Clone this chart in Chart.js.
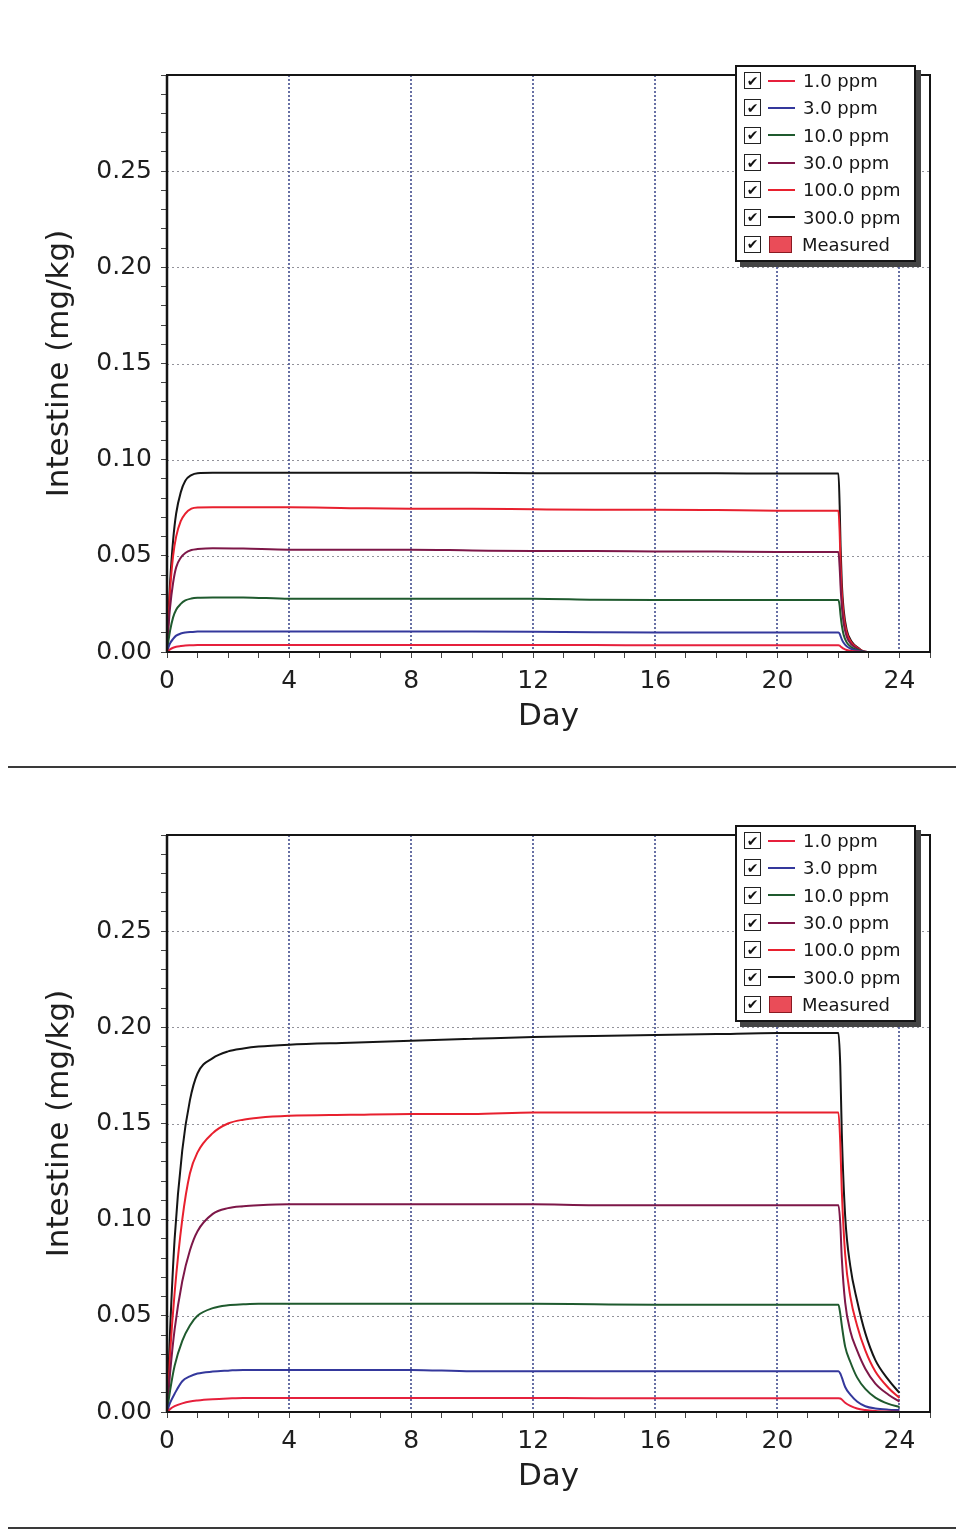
<!DOCTYPE html>
<html><head><meta charset="utf-8">
<script src="https://cdn.jsdelivr.net/npm/chart.js@4.4.1/dist/chart.umd.min.js"></script>
<style>
html,body{margin:0;padding:0;background:#fff;}
body{width:956px;height:1532px;position:relative;overflow:hidden;font-family:"DejaVu Sans",Verdana,sans-serif;}
.block{position:absolute;left:0;width:956px;height:760px;}
.block canvas{position:absolute;left:0;top:0;}
.sep{position:absolute;left:8px;width:948px;height:2px;background:#3a3a3a;}
.legend{position:absolute;left:735px;top:65px;width:177px;border:2px solid #151515;background:#fff;box-shadow:5px 5px 0 #444;padding:0 0 2px 0;}
.row{height:27.3px;display:flex;align-items:center;font-size:18px;color:#161616;white-space:nowrap;}
.cb{width:15px;height:15px;border:1.6px solid #222;margin-left:7px;display:flex;align-items:center;justify-content:center;font-size:14px;line-height:1;color:#111;}
.ln{width:27px;height:2px;margin-left:7px;}
.sw{width:21px;height:15px;margin-left:8px;background:#ea4c58;border:1px solid #8a1a22;}
.tx{margin-left:8px;}
.sw + .tx{margin-left:10px;}
</style>
</head><body>
<div class="block" id="b1"><canvas id="c1" width="956" height="760"></canvas></div>
<div class="block" id="b2" style="top:760px"><canvas id="c2" width="956" height="760"></canvas></div>
<div class="sep" style="top:766px"></div>
<div class="sep" style="top:1527px"></div>
<script>
// ---- data ----
const seriesLabels = ["1.0 ppm", "3.0 ppm", "10.0 ppm", "30.0 ppm", "100.0 ppm", "300.0 ppm"];
const seriesColors = ["#e6203c", "#34389c", "#1f5a2e", "#7d1748", "#e8202e", "#151515"];
const measuredLabel = "Measured";
const measuredColor = "#ea4c58";

const topDay = [0,0.05,0.1,0.2,0.3,0.45,0.6,0.8,1.0,1.5,2.5,4,6,8,10,12,14,16,18,20,22.0,22.04,22.07,22.11,22.17,22.27,22.43,22.66,22.82,23.0];
const top1   = [0,0.0008,0.0014,0.0022,0.0027,0.0031,0.0034,0.0035,0.0036,0.0036,0.0036,0.0036,0.0036,0.0036,0.0036,0.0036,0.0036,0.0035,0.0035,0.0035,0.0035,0.0033,0.0029,0.0024,0.0017,0.001,0.0005,0.0002,0,0];
const top3   = [0,0.0025,0.0045,0.0068,0.0085,0.0096,0.0101,0.0104,0.0106,0.0106,0.0106,0.0106,0.0106,0.0106,0.0106,0.0105,0.0103,0.0102,0.0102,0.0102,0.0102,0.0095,0.0082,0.0066,0.0048,0.003,0.0015,0.0005,0.0001,0];
const top10  = [0,0.006,0.011,0.018,0.022,0.025,0.0268,0.0278,0.0282,0.0284,0.0284,0.0277,0.0277,0.0277,0.0277,0.0277,0.0272,0.027,0.027,0.027,0.027,0.024,0.019,0.014,0.009,0.005,0.0024,0.0009,0.0002,0];
const top30  = [0,0.013,0.023,0.036,0.044,0.049,0.0515,0.053,0.0535,0.054,0.0538,0.0532,0.0532,0.0532,0.0528,0.0525,0.0525,0.0523,0.0522,0.052,0.052,0.044,0.034,0.024,0.015,0.008,0.0038,0.0014,0.0003,0];
const top100 = [0,0.018,0.032,0.050,0.060,0.068,0.072,0.0745,0.0751,0.0752,0.0752,0.0752,0.0748,0.0745,0.0745,0.0742,0.074,0.074,0.0738,0.0735,0.0735,0.062,0.046,0.031,0.019,0.010,0.0048,0.0018,0.0003,0];
const top300 = [0,0.02,0.036,0.058,0.072,0.083,0.089,0.092,0.093,0.0932,0.0932,0.0932,0.0932,0.0932,0.0932,0.093,0.093,0.0929,0.0929,0.0928,0.0928,0.076,0.055,0.036,0.022,0.0115,0.0054,0.002,0.0003,0];

const botDay = [0,0.1,0.25,0.5,0.75,1.0,1.5,2.0,2.5,3,4,6,8,10,12,14,16,18,20,22.0,22.06,22.11,22.22,22.39,22.61,22.88,23.21,23.64,24.0];
const bot1   = [0,0.0015,0.003,0.0045,0.0055,0.006,0.0066,0.007,0.0073,0.0073,0.0073,0.0073,0.0073,0.0073,0.0073,0.0072,0.0072,0.0072,0.0072,0.0072,0.007,0.0065,0.0048,0.0032,0.0018,0.001,0.0005,0.0002,0.0001];
const bot3   = [0,0.0047,0.0095,0.016,0.0185,0.0200,0.0210,0.0215,0.0219,0.0219,0.0219,0.0219,0.0219,0.0212,0.0212,0.0212,0.0212,0.0212,0.0212,0.0212,0.020,0.018,0.013,0.009,0.0055,0.003,0.0018,0.0012,0.001];
const bot10  = [0,0.011,0.024,0.037,0.045,0.050,0.054,0.0555,0.056,0.0563,0.0563,0.0563,0.0563,0.0563,0.0563,0.056,0.0558,0.0558,0.0558,0.0558,0.051,0.045,0.034,0.026,0.018,0.012,0.0075,0.0042,0.0026];
const bot30  = [0,0.020,0.043,0.068,0.084,0.094,0.103,0.106,0.107,0.1075,0.108,0.108,0.108,0.108,0.108,0.1075,0.1075,0.1075,0.1075,0.1075,0.098,0.080,0.057,0.042,0.032,0.0225,0.0148,0.009,0.0054];
const bot100 = [0,0.030,0.062,0.100,0.124,0.135,0.145,0.150,0.152,0.153,0.154,0.1545,0.155,0.155,0.1557,0.1557,0.1557,0.1557,0.1557,0.1557,0.140,0.115,0.082,0.060,0.045,0.032,0.021,0.0125,0.0073];
const bot300 = [0,0.042,0.090,0.136,0.162,0.176,0.184,0.1875,0.189,0.190,0.191,0.192,0.193,0.194,0.195,0.1955,0.196,0.1965,0.197,0.197,0.180,0.145,0.102,0.0757,0.058,0.041,0.027,0.0167,0.0099];

const xMin = 0, xMax = 25, xStep = 1, xLabelEvery = 4;
const yMin = 0, yMax = 0.30, yStep = 0.01, yLabelEvery = 0.05;
const xTitle = "Day";
const yTitle = "Intestine (mg/kg)";

// ---- helpers ----
function isMult(v, m){ const r = v / m; return Math.abs(r - Math.round(r)) < 1e-6; }

const gridFramePlugin = {
  id: 'gridFrame',
  beforeDatasetsDraw(chart){
    const {ctx, chartArea:a, scales:{x, y}} = chart;
    ctx.save();
    ctx.lineWidth = 1;
    ctx.strokeStyle = 'rgba(110,110,120,0.75)';
    ctx.setLineDash([2,3]);
    y.ticks.forEach(t => {
      if (!isMult(t.value, yLabelEvery) || t.value <= yMin + 1e-9 || t.value >= yMax - 1e-9) return;
      const py = Math.round(y.getPixelForValue(t.value)) + 0.5;
      ctx.beginPath(); ctx.moveTo(a.left, py); ctx.lineTo(a.right, py); ctx.stroke();
    });
    ctx.strokeStyle = '#4e5896';
    ctx.lineWidth = 1.7;
    ctx.setLineDash([2,2]);
    x.ticks.forEach(t => {
      if (!isMult(t.value, xLabelEvery) || t.value <= xMin + 1e-9 || t.value >= xMax - 1e-9) return;
      const px = Math.round(x.getPixelForValue(t.value));
      ctx.beginPath(); ctx.moveTo(px, a.top); ctx.lineTo(px, a.bottom); ctx.stroke();
    });
    ctx.restore();
  },
  afterDatasetsDraw(chart){
    const {ctx, chartArea:a} = chart;
    ctx.save();
    ctx.strokeStyle = '#151515';
    ctx.lineWidth = 2;
    ctx.strokeRect(a.left, a.top, a.right - a.left, a.bottom - a.top);
    ctx.lineWidth = 2.5;
    ctx.beginPath(); ctx.moveTo(a.left, a.top); ctx.lineTo(a.left, a.bottom); ctx.stroke();
    ctx.restore();
  }
};

function makeChart(canvasId, days, seriesList){
  const datasets = seriesList.map((vals, i) => ({
    label: seriesLabels[i],
    data: days.map((d, j) => ({x: d, y: vals[j]})),
    borderColor: seriesColors[i],
    backgroundColor: seriesColors[i],
    borderWidth: 2,
    pointRadius: 0,
    cubicInterpolationMode: 'monotone',
    fill: false
  }));
  const tickFont = {family: '"DejaVu Sans", Verdana, sans-serif', size: 25};
  const titleFont = {family: '"DejaVu Sans", Verdana, sans-serif', size: 31};
  return new Chart(document.getElementById(canvasId), {
    type: 'line',
    data: {datasets},
    options: {
      responsive: false,
      animation: false,
      devicePixelRatio: 1,
      layout: {padding: {top: 75, right: 26, left: 0, bottom: 0}},
      plugins: {legend: {display: false}, tooltip: {enabled: false}},
      scales: {
        x: {
          type: 'linear', min: xMin, max: xMax,
          afterFit: s => { s.height = 108; },
          border: {display: false},
          grid: {drawOnChartArea: false, drawTicks: true, tickLength: 6, tickColor: '#444', tickWidth: 1},
          ticks: {
            stepSize: xStep, autoSkip: false, maxRotation: 0, padding: 8,
            color: '#1e1e1e', font: tickFont,
            callback: v => isMult(v, xLabelEvery) ? String(Math.round(v)) : ''
          },
          title: {display: true, text: xTitle, color: '#1e1e1e', font: titleFont, padding: {top: 0, bottom: 24}}
        },
        y: {
          type: 'linear', min: yMin, max: yMax,
          afterFit: s => { s.width = 167; },
          border: {display: false},
          grid: {drawOnChartArea: false, drawTicks: true, tickLength: 6, tickColor: '#444', tickWidth: 1},
          ticks: {
            stepSize: yStep, autoSkip: false, padding: 9,
            color: '#1e1e1e', font: tickFont,
            callback: v => (isMult(v, yLabelEvery) && v < yMax - 1e-9) ? v.toFixed(2) : ''
          },
          title: {display: true, text: yTitle, color: '#1e1e1e', font: titleFont, padding: {top: 41, bottom: 0}}
        }
      }
    },
    plugins: [gridFramePlugin]
  });
}

function makeLegend(blockId){
  const lg = document.createElement('div');
  lg.className = 'legend';
  seriesLabels.forEach((lab, i) => {
    const r = document.createElement('div'); r.className = 'row';
    r.innerHTML = '<span class="cb">\u2714</span><span class="ln" style="background:' + seriesColors[i] + '"></span><span class="tx"></span>';
    r.querySelector('.tx').textContent = lab;
    lg.appendChild(r);
  });
  const r = document.createElement('div'); r.className = 'row';
  r.innerHTML = '<span class="cb">\u2714</span><span class="sw" style="background:' + measuredColor + '"></span><span class="tx"></span>';
  r.querySelector('.tx').textContent = measuredLabel;
  lg.appendChild(r);
  document.getElementById(blockId).appendChild(lg);
}

makeChart('c1', topDay, [top1, top3, top10, top30, top100, top300]);
makeChart('c2', botDay, [bot1, bot3, bot10, bot30, bot100, bot300]);
makeLegend('b1');
makeLegend('b2');
</script>
</body></html>
